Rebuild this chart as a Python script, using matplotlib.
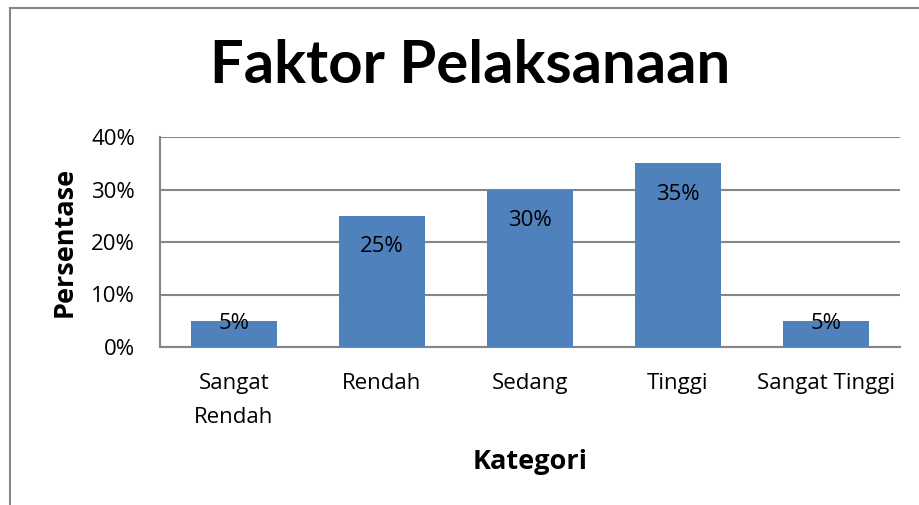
import matplotlib
matplotlib.use("Agg")
import matplotlib.pyplot as plt
from matplotlib.lines import Line2D

categories = ["Sangat\nRendah", "Rendah", "Sedang", "Tinggi", "Sangat Tinggi"]
values = [5, 25, 30, 35, 5]
yticks = [0, 10, 20, 30, 40]
ytick_labels = ["0%", "10%", "20%", "30%", "40%"]

W, H = 919, 505
plt.rcParams['font.family'] = ['Open Sans', 'DejaVu Sans']
fig = plt.figure(figsize=(W / 100, H / 100), dpi=100)

# outer chart border (left and top visible)
fig.add_artist(Line2D([10 / W, 10 / W], [0, 1 - 8 / H], transform=fig.transFigure, color='#868686', lw=1.5))
fig.add_artist(Line2D([10 / W, 1], [1 - 8 / H, 1 - 8 / H], transform=fig.transFigure, color='#868686', lw=1.5))

ax = fig.add_axes([160 / W, (H - 347) / H, 740 / W, 210 / H])
x = list(range(len(categories)))
ax.bar(x, values, width=0.58, color='#4F81BD', zorder=3)
ax.set_xlim(-0.5, len(categories) - 0.5)
ax.set_ylim(0, 40)
ax.set_yticks(yticks)
ax.set_yticklabels(ytick_labels, fontsize=16)
ax.set_xticks(x)
ax.set_xticklabels(categories, fontsize=16, linespacing=1.8)
ax.tick_params(axis='both', length=0)
ax.tick_params(axis='y', pad=18)
ax.tick_params(axis='x', pad=19)
ax.grid(axis='y', color='#868686', lw=1.5, zorder=0)
for s in ['top', 'right']:
    ax.spines[s].set_visible(False)
for s in ['left', 'bottom']:
    ax.spines[s].set_color('#868686')
    ax.spines[s].set_linewidth(1.5)

for xi, v in zip(x, values):
    ly = v - 5.9 if v > 10 else v - 0.6
    ax.text(xi, ly, f"{v}%", ha='center', va='center', fontsize=16, color='black', zorder=4)

ax.set_ylabel("Persentase", fontsize=19.5, fontweight='bold', labelpad=10)
ax.set_xlabel("Kategori", fontsize=19.5, fontweight='bold', labelpad=15)
fig.text(470 / W, 1 - 66 / H, "Faktor Pelaksanaan", ha='center', va='center', fontsize=43,
         fontweight='bold', family='Lato')

fig.savefig("out.png", dpi=100)
